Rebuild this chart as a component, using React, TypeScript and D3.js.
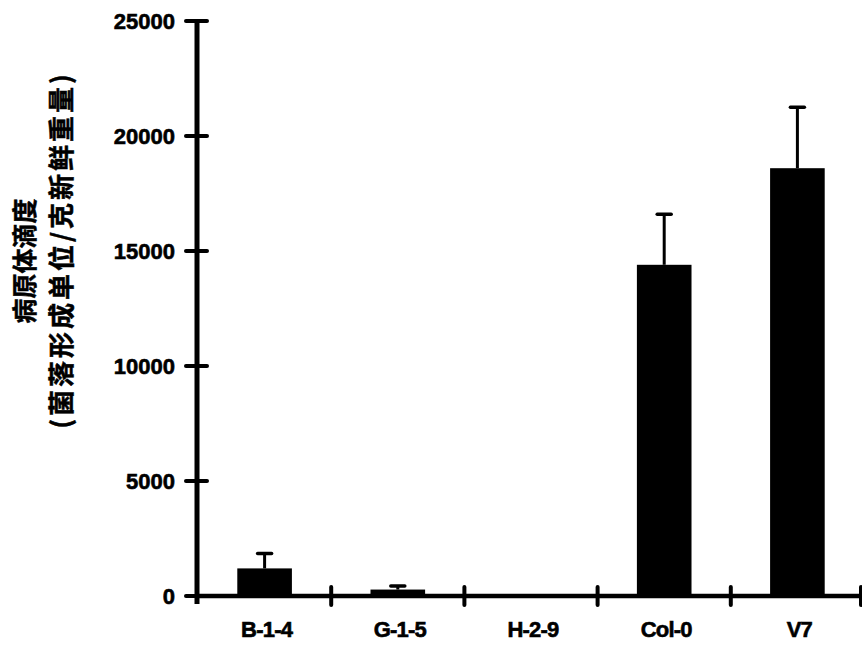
import { useEffect, useRef } from "react"
import * as d3 from "d3"

const categories = ["B-1-4", "G-1-5", "H-2-9", "Col-0", "V7"]
const values = [1200, 280, 40, 14400, 18600]
const errors = [650, 150, 0, 2200, 2650]
const yTicks = [0, 5000, 10000, 15000, 20000, 25000]
const yTitle = ["病原体滴度", "(菌落形成单位/克新鲜重量)"]

const W = 862
const H = 648

const App = () => {
  const svgRef = useRef<SVGSVGElement>(null)

  useEffect(() => {
    const svg = d3.select(svgRef.current)
    svg.selectAll("*").remove()

    const x = d3.scaleBand().domain(categories).range([198, 864]).paddingInner(0.59).paddingOuter(0.295)
    const y = d3.scaleLinear().domain([0, 25000]).range([596, 21])

    const data = categories.map((c, i) => ({ c, v: values[i], e: errors[i] }))

    // bars
    svg
      .selectAll("rect.bar")
      .data(data)
      .enter()
      .append("rect")
      .attr("class", "bar")
      .attr("x", (d) => x(d.c)!)
      .attr("width", x.bandwidth())
      .attr("y", (d) => y(d.v))
      .attr("height", (d) => y(0) - y(d.v))
      .attr("fill", "#000")

    // error bars (upper only)
    const eb = svg.selectAll("g.err").data(data.filter((d) => d.e > 0)).enter().append("g")
    eb.append("line")
      .attr("x1", (d) => x(d.c)! + x.bandwidth() / 2)
      .attr("x2", (d) => x(d.c)! + x.bandwidth() / 2)
      .attr("y1", (d) => y(d.v))
      .attr("y2", (d) => y(d.v + d.e))
      .attr("stroke", "#000")
      .attr("stroke-width", 3)
    eb.append("line")
      .attr("x1", (d) => x(d.c)! + x.bandwidth() / 2 - 7)
      .attr("x2", (d) => x(d.c)! + x.bandwidth() / 2 + 7)
      .attr("y1", (d) => y(d.v + d.e))
      .attr("y2", (d) => y(d.v + d.e))
      .attr("stroke", "#000")
      .attr("stroke-width", 3.5)
      .attr("stroke-linecap", "round")

    const numFont = "'Liberation Sans', Arial, sans-serif"

    // y axis
    svg.append("line")
      .attr("x1", 197).attr("x2", 197)
      .attr("y1", y(25000)).attr("y2", y(0) + 8)
      .attr("stroke", "#000").attr("stroke-width", 5)
    svg.selectAll("line.ytick")
      .data(yTicks)
      .enter()
      .append("line")
      .attr("x1", 186).attr("x2", 207)
      .attr("y1", (d) => y(d)).attr("y2", (d) => y(d))
      .attr("stroke", "#000").attr("stroke-width", 4)
      .attr("stroke-linecap", "round")
    svg.selectAll("text.ytick")
      .data(yTicks)
      .enter()
      .append("text")
      .attr("x", 175)
      .attr("y", (d) => y(d))
      .attr("dy", "0.36em")
      .attr("text-anchor", "end")
      .attr("stroke", "#000")
      .attr("stroke-width", 0.6)
      .style("font-family", numFont)
      .style("font-weight", "bold")
      .style("font-size", "22px")
      .text((d) => String(d))

    // x axis
    svg.append("line")
      .attr("x1", 197).attr("x2", W)
      .attr("y1", y(0)).attr("y2", y(0))
      .attr("stroke", "#000").attr("stroke-width", 4.5)
    const bounds = categories.map((c) => x(c)! - (x.step() * x.paddingInner()) / 2).slice(1)
    bounds.push(x(categories[categories.length - 1])! + x.bandwidth() + (x.step() * x.paddingInner()) / 2 - 3)
    svg.selectAll("line.xtick")
      .data(bounds)
      .enter()
      .append("line")
      .attr("x1", (d) => d).attr("x2", (d) => d)
      .attr("y1", y(0) - 9).attr("y2", y(0) + 9)
      .attr("stroke", "#000").attr("stroke-width", 4)
      .attr("stroke-linecap", "round")
    svg.selectAll("text.xlab")
      .data(categories)
      .enter()
      .append("text")
      .attr("x", (d) => x(d)! + x.bandwidth() / 2 + 2)
      .attr("y", 637)
      .attr("text-anchor", "middle")
      .attr("stroke", "#000")
      .attr("stroke-width", 0.6)
      .style("font-family", numFont)
      .style("font-weight", "bold")
      .style("font-size", "22px")
      .style("letter-spacing", "-0.8px")
      .text((d) => d)

    // y title, two lines
    const tf = "'Noto Sans CJK SC', sans-serif"
    svg.append("text")
      .attr("transform", "translate(34,261) rotate(-90)")
      .attr("text-anchor", "middle")
      .attr("stroke", "#000")
      .attr("stroke-width", 0.5)
      .style("font-family", tf)
      .style("font-weight", "bold")
      .style("font-size", "25px")
      .text(yTitle[0])
    svg.append("text")
      .attr("transform", "translate(71,250) rotate(-90)")
      .attr("text-anchor", "middle")
      .attr("stroke", "#000")
      .attr("stroke-width", 0.5)
      .style("font-family", tf)
      .style("font-weight", "bold")
      .style("font-size", "26px")
      .style("letter-spacing", "3px")
      .text(yTitle[1])
  }, [])

  return (
    <svg
      ref={svgRef}
      width={W}
      height={H}
      style={{ position: "absolute", left: 0, top: 0, background: "#fff" }}
    ></svg>
  )
}

export default App
